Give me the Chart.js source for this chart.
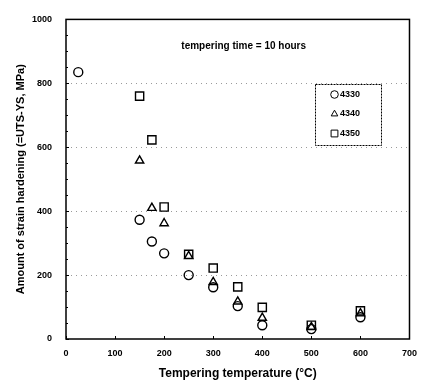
<!DOCTYPE html>
<html>
<head>
<meta charset="utf-8">
<script src="https://cdn.jsdelivr.net/npm/chart.js"></script>
<style>
  html, body { margin: 0; padding: 0; background: #fff; }
  #wrap { width: 426px; height: 381px; }
</style>
</head>
<body>
<div id="wrap"><canvas id="c" width="426" height="381"></canvas></div>
<script>
// Data
const temps4330 = [25, 150, 175, 200, 250, 300, 350, 400, 500, 600];
const vals4330 = [835, 373, 305, 268, 200, 162, 103, 43, 31, 68];
const temps4340 = [150, 175, 200, 250, 300, 350, 400, 500, 600];
const vals4340 = [558, 410, 362, 259, 178, 117, 66, 37, 80];
const temps4350 = [150, 175, 200, 250, 300, 350, 400, 500, 600];
const vals4350 = [760, 623, 413, 265, 222, 163, 99, 43, 88];
const seriesNames = ['4330', '4340', '4350'];
const seriesStyles = ['circle', 'triangle', 'rect'];
const annotation = 'tempering time = 10 hours';

const FONT = '"Liberation Sans", Arial, sans-serif';

function pts(xs, ys) { return xs.map((x, i) => ({ x: x, y: ys[i] })); }

const radii = [4.5, 4.8, 5.8];
const datasets = [
  { label: seriesNames[0], data: pts(temps4330, vals4330) },
  { label: seriesNames[1], data: pts(temps4340, vals4340) },
  { label: seriesNames[2], data: pts(temps4350, vals4350) }
].map((d, i) => Object.assign(d, {
  showLine: false,
  pointStyle: seriesStyles[i],
  pointRadius: radii[i],
  borderColor: '#000',
  backgroundColor: 'rgba(255,255,255,0)',
  pointBorderWidth: 1.4
}));

// frame, inward ticks, annotation and boxed legend
const extras = {
  id: 'extras',
  afterDraw(chart) {
    const ctx = chart.ctx;
    const a = chart.chartArea;
    const xs = chart.scales.x, ys = chart.scales.y;
    ctx.save();
    ctx.strokeStyle = '#000';
    ctx.lineWidth = 1.5;
    ctx.strokeRect(a.left, a.top, a.right - a.left, a.bottom - a.top);

    ctx.lineWidth = 1;
    ctx.beginPath();
    for (let v = 0; v <= 1000; v += 50) {
      const y = Math.round(ys.getPixelForValue(v)) + 0.5;
      const len = v % 200 === 0 ? 3 : 2;
      ctx.moveTo(a.left, y); ctx.lineTo(a.left + len, y);
    }
    xs.ticks.forEach(t => {
      const x = Math.round(xs.getPixelForValue(t.value)) + 0.5;
      ctx.moveTo(x, a.bottom); ctx.lineTo(x, a.bottom - 3);
    });
    ctx.stroke();

    // annotation
    ctx.fillStyle = '#000';
    ctx.font = 'bold 10px ' + FONT;
    ctx.textAlign = 'left';
    ctx.textBaseline = 'middle';
    ctx.fillText(annotation, xs.getPixelForValue(235), ys.getPixelForValue(915));

    // legend box
    const bx = 315, by = 84, bw = 66, bh = 61;
    ctx.setLineDash([2, 1]);
    ctx.strokeRect(bx + 0.5, by + 0.5, bw, bh);
    ctx.setLineDash([]);
    ctx.font = 'bold 9px ' + FONT;
    chart.data.datasets.forEach((d, i) => {
      const cy = 94.5 + i * 19.5;
      ctx.fillStyle = 'rgba(255,255,255,0)';
      Chart.helpers.drawPoint(ctx, {
        pointStyle: d.pointStyle, radius: i === 2 ? 4.8 : 3.8, rotation: 0, borderWidth: 1.3
      }, 334.5, cy);
      ctx.fillStyle = '#000';
      ctx.fillText(d.label, 340, cy);
    });
    ctx.restore();
  }
};

new Chart(document.getElementById('c'), {
  type: 'scatter',
  data: { datasets: datasets },
  options: {
    responsive: false,
    animation: false,
    layout: { padding: { top: 15, right: 11, left: 0, bottom: 0 } },
    plugins: { legend: { display: false }, tooltip: { enabled: false } },
    scales: {
      x: {
        type: 'linear', min: 0, max: 700,
        ticks: { stepSize: 100, color: '#000', font: { family: FONT, size: 9, weight: 'bold' }, padding: 9,
                 callback: v => String(v) },
        grid: { display: false, drawTicks: false },
        border: { display: false },
        title: { display: true, text: 'Tempering temperature (°C)', color: '#000',
                 font: { family: FONT, size: 12, weight: 'bold' }, padding: { top: 6, bottom: 0 } },
        afterFit(s) { s.height = 42; }
      },
      y: {
        type: 'linear', min: 0, max: 1000,
        ticks: { stepSize: 200, color: '#000', font: { family: FONT, size: 9, weight: 'bold' }, padding: 14,
                 callback: v => String(v) },
        grid: {
          drawTicks: false,
          lineWidth: 1,
          color: c => (c.tick && c.tick.value > 0 && c.tick.value < 1000) ? '#9a9a9a' : 'rgba(0,0,0,0)'
        },
        border: { display: false, dash: [1, 4] },
        title: { display: true, text: 'Amount of strain hardening (=UTS-YS, MPa)', color: '#000',
                 font: { family: FONT, size: 11, weight: 'bold' }, padding: { top: 14, bottom: 0 } },
        afterFit(s) { s.width = 66; }
      }
    }
  },
  plugins: [extras]
});
</script>
</body>
</html>
